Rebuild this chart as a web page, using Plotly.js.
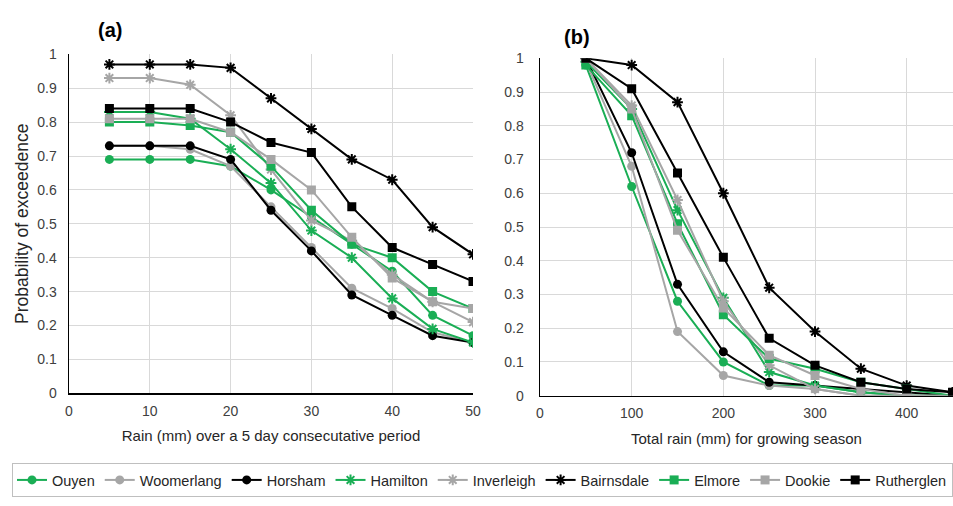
<!DOCTYPE html>
<html>
<head>
<meta charset="utf-8">
<script src="https://cdn.plot.ly/plotly-3.0.1.min.js"></script>
<style>html,body{margin:0;padding:0;background:#fff;}#chart{width:953px;height:506px;}</style>
</head>
<body>
<div id="chart"></div>
<script>
// ---- data ----
const sites = ["Ouyen","Woomerlang","Horsham","Hamilton","Inverleigh","Bairnsdale","Elmore","Dookie","Rutherglen"];
const rain5day = [5,10,15,20,25,30,35,40,45,50];
const rainSeason = [50,100,150,200,250,300,350,400,450];

// (a) probability of exceedence vs rain over 5 consecutive days
const a_Ouyen      = [0.69,0.69,0.69,0.67,0.60,0.52,0.44,0.36,0.23,0.17];
const a_Woomerlang = [0.73,0.73,0.72,0.67,0.55,0.43,0.31,0.25,0.18,0.15];
const a_Horsham    = [0.73,0.73,0.73,0.69,0.54,0.42,0.29,0.23,0.17,0.15];
const a_Hamilton   = [0.83,0.83,0.81,0.72,0.62,0.48,0.40,0.28,0.19,0.15];
const a_Inverleigh = [0.93,0.93,0.91,0.82,0.66,0.51,0.45,0.35,0.27,0.21];
const a_Bairnsdale = [0.97,0.97,0.97,0.96,0.87,0.78,0.69,0.63,0.49,0.41];
const a_Elmore     = [0.80,0.80,0.79,0.77,0.67,0.54,0.44,0.40,0.30,0.25];
const a_Dookie     = [0.81,0.81,0.81,0.77,0.69,0.60,0.46,0.34,0.27,0.25];
const a_Rutherglen = [0.84,0.84,0.84,0.80,0.74,0.71,0.55,0.43,0.38,0.33];

// (b) probability of exceedence vs total growing-season rain
const b_Ouyen      = [0.98,0.62,0.28,0.10,0.03,0.03,0.01,0.00,0.00];
const b_Woomerlang = [0.99,0.68,0.19,0.06,0.03,0.02,0.00,0.00,0.00];
const b_Horsham    = [1.00,0.72,0.33,0.13,0.04,0.03,0.02,0.01,0.00];
const b_Hamilton   = [0.99,0.85,0.55,0.29,0.07,0.03,0.01,0.00,0.00];
const b_Inverleigh = [1.00,0.86,0.58,0.28,0.09,0.02,0.00,0.00,0.00];
const b_Bairnsdale = [1.00,0.98,0.87,0.60,0.32,0.19,0.08,0.03,0.01];
const b_Elmore     = [0.98,0.83,0.51,0.24,0.11,0.08,0.04,0.02,0.00];
const b_Dookie     = [1.00,0.85,0.49,0.26,0.12,0.06,0.02,0.00,0.00];
const b_Rutherglen = [1.00,0.91,0.66,0.41,0.17,0.09,0.04,0.02,0.01];

const aSeries = [a_Ouyen,a_Woomerlang,a_Horsham,a_Hamilton,a_Inverleigh,a_Bairnsdale,a_Elmore,a_Dookie,a_Rutherglen];
const bSeries = [b_Ouyen,b_Woomerlang,b_Horsham,b_Hamilton,b_Inverleigh,b_Bairnsdale,b_Elmore,b_Dookie,b_Rutherglen];

// ---- styles ----
const GREEN = '#1aae55', GREY = '#a6a6a6', BLACK = '#000000';
const colors  = [GREEN, GREY, BLACK, GREEN, GREY, BLACK, GREEN, GREY, BLACK];
const symbols = ['circle','circle','circle','asterisk-open','asterisk-open','asterisk-open','square','square','square'];

function mk(i, x, y, xa, ya, show){
  const isAst = symbols[i] === 'asterisk-open';
  return {
    type:'scatter', mode:'lines+markers', name: sites[i],
    x: x, y: y, xaxis: xa, yaxis: ya,
    legendgroup: sites[i], showlegend: show,
    line:{color: colors[i], width: 2},
    marker:{symbol: symbols[i], size: 9, color: colors[i],
            line:{color: colors[i], width: isAst ? 2 : 0}},
    hoverinfo:'skip'
  };
}

const traces = [];
for (let i = 0; i < sites.length; i++) traces.push(mk(i, rain5day, aSeries[i], 'x', 'y', true));
for (let i = 0; i < sites.length; i++) traces.push(mk(i, rainSeason, bSeries[i], 'x2', 'y2', false));

const W = 953, H = 506;
const tickFont = {family:'Liberation Sans, Arial, sans-serif', size:14, color:'#404040'};
const gridC = '#d9d9d9';

const layout = {
  width: W, height: H,
  margin:{l:0, r:0, t:0, b:0},
  paper_bgcolor:'#fff', plot_bgcolor:'#fff',
  font:{family:'Liberation Sans, Arial, sans-serif', color:'#404040'},
  showlegend: true,
  legend:{orientation:'h', x: 12/W, xanchor:'left', y: 1-463/H, yanchor:'top',
          bordercolor:'#bfbfbf', borderwidth:1, font:{size:14.5, color:'#262626'},
          itemwidth:30, tracegroupgap:0},
  xaxis:{domain:[69/W, 473/W], range:[0,50], dtick:10, tick0:0,
         showgrid:true, gridcolor:gridC, zeroline:false,
         showline:true, linecolor:'#000', linewidth:1.5, ticks:'',
         tickfont:tickFont, ticklabelstandoff:4,
         title:{text:'Rain (mm) over a 5 day consecutative period', font:{size:15, color:'#262626'}, standoff:13},
         anchor:'y'},
  yaxis:{domain:[1-393.3/H, 1-54.3/H], range:[0,1], dtick:0.1, tick0:0,
         showgrid:true, gridcolor:gridC, zeroline:false,
         showline:true, linecolor:'#000', linewidth:1.5, ticks:'',
         tickfont:tickFont, ticklabelstandoff:8,
         title:{text:'Probability of exceedence', font:{size:17.5, color:'#262626'}, standoff:4},
         anchor:'x'},
  xaxis2:{domain:[540/W, 1], range:[0,450.5], dtick:100, tick0:0,
         showgrid:true, gridcolor:gridC, zeroline:false,
         showline:true, linecolor:'#000', linewidth:1.5, ticks:'',
         tickfont:tickFont, ticklabelstandoff:4,
         tickvals:[0,100,200,300,400],
         title:{text:'Total rain (mm) for growing season', font:{size:15, color:'#262626'}, standoff:13},
         anchor:'y2'},
  yaxis2:{domain:[1-395.7/H, 1-58.3/H], range:[0,1], dtick:0.1, tick0:0,
         showgrid:true, gridcolor:gridC, zeroline:false,
         showline:true, linecolor:'#000', linewidth:1.5, ticks:'',
         tickfont:tickFont, ticklabelstandoff:12,
         anchor:'x2'},
  annotations:[
    {text:'<b>(a)</b>', xref:'paper', yref:'paper', x:110/W, y:1-30/H, xanchor:'center', yanchor:'middle',
     showarrow:false, font:{size:20, color:'#000'}},
    {text:'<b>(b)</b>', xref:'paper', yref:'paper', x:577/W, y:1-37/H, xanchor:'center', yanchor:'middle',
     showarrow:false, font:{size:20, color:'#000'}}
  ]
};

Plotly.newPlot('chart', traces, layout, {displayModeBar:false, staticPlot:true});
</script>
</body>
</html>
